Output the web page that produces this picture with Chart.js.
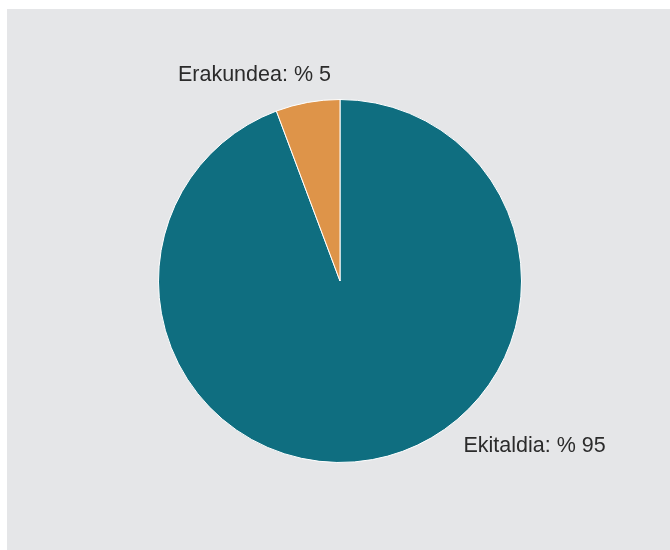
<!DOCTYPE html>
<html>
<head>
<meta charset="utf-8">
<script src="https://cdn.jsdelivr.net/npm/chart.js@4/dist/chart.umd.min.js"></script>
<style>
  html, body { margin: 0; padding: 0; background: #fff; }
  #panel {
    position: absolute;
    left: 7px; top: 9px;
    width: 663px; height: 541px;
    background: #e5e6e8;
  }
  #pie { display: block; }
</style>
</head>
<body>
<div id="panel"><canvas id="pie" width="663" height="541"></canvas></div>
<script>
const categories = ["Ekitaldia", "Erakundea"];
const shares = [94.3, 5.7];          // slice sizes as drawn
const shownPercent = [95, 5];        // numbers printed in the labels
const sliceColors = ["#0f6e80", "#de9449"];

// labels placed outside the pie, relative to its centre (in radii)
const outsideLabels = {
  id: "outsideLabels",
  afterDatasetsDraw(chart) {
    const ctx = chart.ctx;
    const arcs = chart.getDatasetMeta(0).data;
    ctx.save();
    ctx.font = "21.5px 'Liberation Sans', Arial, sans-serif";
    ctx.fillStyle = "#2b2b2b";
    ctx.textBaseline = "alphabetic";
    arcs.forEach((arc, i) => {
      const { x, y, outerRadius } = arc.getProps(["x", "y", "outerRadius"], true);
      const mid = (arc.startAngle + arc.endAngle) / 2;
      const text = categories[i] + ": % " + shownPercent[i];
      if (Math.cos(mid) > 0 || Math.sin(mid) > 0) {
        // lower right side
        ctx.textAlign = "left";
        ctx.fillText(text, x + outerRadius * 0.68, y + outerRadius * 0.94);
      } else {
        ctx.textAlign = "right";
        ctx.fillText(text, x - outerRadius * 0.05, y - outerRadius * 1.10);
      }
    });
    ctx.restore();
  }
};

new Chart(document.getElementById("pie"), {
  type: "pie",
  data: {
    labels: categories,
    datasets: [{
      data: shares,
      backgroundColor: sliceColors,
      borderColor: "#ffffff",
      borderWidth: 1
    }]
  },
  options: {
    responsive: false,
    animation: false,
    layout: { padding: { left: 151, right: 148, top: 90, bottom: 87 } },
    plugins: {
      legend: { display: false },
      tooltip: { enabled: false }
    }
  },
  plugins: [outsideLabels]
});
</script>
</body>
</html>
